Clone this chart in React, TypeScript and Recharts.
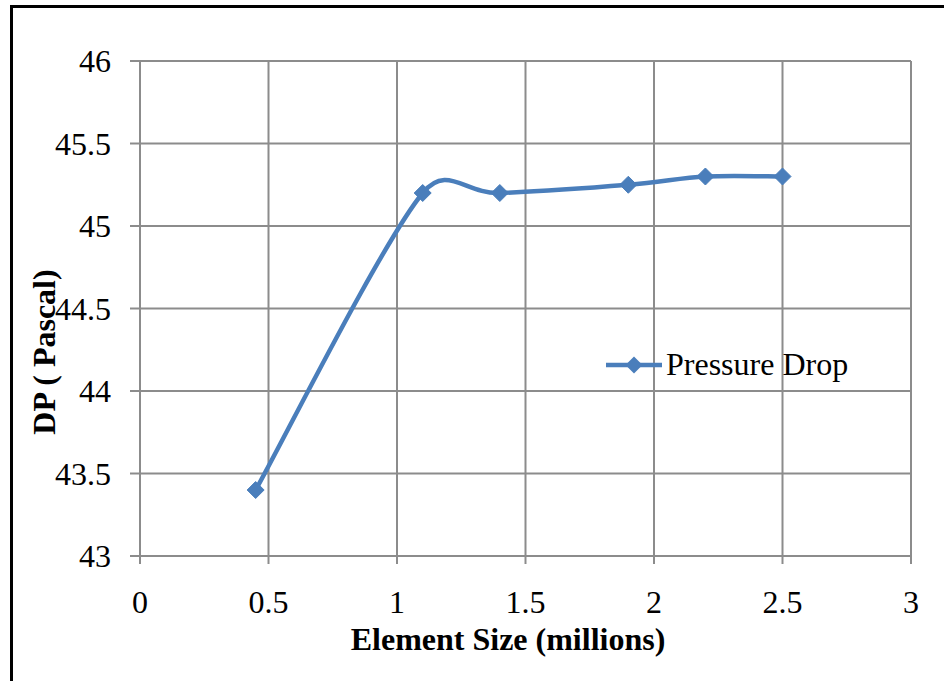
import { LineChart, Line, XAxis, YAxis, CartesianGrid, Legend } from "recharts";

const elementSizes = [0.45, 1.1, 1.4, 1.9, 2.2, 2.5];
const pressureDrop = [43.4, 45.2, 45.2, 45.25, 45.3, 45.3];
const xTicks = [0, 0.5, 1, 1.5, 2, 2.5, 3];
const yTicks = [43, 43.5, 44, 44.5, 45, 45.5, 46];

const data = elementSizes.map((x, i) => ({ x, dp: pressureDrop[i] }));

const BLUE = "#4A7EBB";
const GRID = "#8c8c8c";
const FONT = "'Liberation Serif', 'Times New Roman', serif";

// Excel-style smoothed line: bezier with 1/6 tangents, clamped to half the segment length
const excelSmooth = (context: any) => {
  let pts: number[][] = [];
  const ctrl = (a: number[], b: number[], seg: number) => {
    let dx = (b[0] - a[0]) / 6;
    let dy = (b[1] - a[1]) / 6;
    const len = Math.hypot(dx, dy);
    if (len > seg / 2 && len > 0) {
      dx *= seg / 2 / len;
      dy *= seg / 2 / len;
    }
    return [dx, dy];
  };
  return {
    areaStart() {},
    areaEnd() {},
    lineStart() {
      pts = [];
    },
    point(x: number, y: number) {
      pts.push([+x, +y]);
    },
    lineEnd() {
      if (!pts.length) return;
      context.moveTo(pts[0][0], pts[0][1]);
      for (let i = 0; i < pts.length - 1; i++) {
        const p0 = pts[i - 1] || pts[i];
        const p1 = pts[i];
        const p2 = pts[i + 1];
        const p3 = pts[i + 2] || p2;
        const seg = Math.hypot(p2[0] - p1[0], p2[1] - p1[1]);
        const c1 = ctrl(p0, p2, seg);
        const c2 = ctrl(p1, p3, seg);
        context.bezierCurveTo(p1[0] + c1[0], p1[1] + c1[1], p2[0] - c2[0], p2[1] - c2[1], p2[0], p2[1]);
      }
    },
  };
};

const Diamond = (props: any) => {
  const { cx, cy } = props;
  if (cx == null || cy == null) return null;
  const r = 8.5;
  return (
    <polygon
      key={`d-${cx}-${cy}`}
      points={`${cx},${cy - r} ${cx + r},${cy} ${cx},${cy + r} ${cx - r},${cy}`}
      fill={BLUE}
      stroke={BLUE}
    />
  );
};

const tickStyle = { fontFamily: FONT, fontSize: 32, fill: "#000" };

const XTick = (props: any) => {
  const { x, y, payload } = props;
  return (
    <text x={x} y={y} dy={23} textAnchor="middle" style={tickStyle}>
      {payload.value}
    </text>
  );
};

const YTick = (props: any) => {
  const { x, y, payload } = props;
  return (
    <text x={x} y={y} dy={11} textAnchor="end" style={tickStyle}>
      {payload.value}
    </text>
  );
};

const LegendBox = () => (
  <div style={{ display: "flex", alignItems: "center", fontFamily: FONT, fontSize: 32, color: "#000", whiteSpace: "nowrap" }}>
    <svg width={58} height={20}>
      <line x1={0} y1={10} x2={56} y2={10} stroke={BLUE} strokeWidth={4.5} />
      <polygon points="28,1.5 36.5,10 28,18.5 19.5,10" fill={BLUE} />
    </svg>
    <span style={{ marginLeft: 2 }}>Pressure Drop</span>
  </div>
);

export default function App() {
  return (
    <div
      style={{
        position: "absolute",
        left: 0,
        top: 0,
        width: 944,
        height: 681,
        background: "#fff",
        overflow: "hidden",
        fontFamily: FONT,
      }}
    >
      <div
        style={{
          position: "absolute",
          left: 10,
          top: 5,
          width: 960,
          height: 700,
          borderLeft: "3px solid #000",
          borderTop: "3px solid #000",
        }}
      />
      <LineChart
        width={944}
        height={681}
        data={data}
        margin={{ top: 61, right: 33, bottom: 35, left: 0 }}
        style={{ position: "absolute", left: 0, top: 0, fontFamily: FONT }}
      >
        <CartesianGrid stroke={GRID} strokeWidth={2} />
        <XAxis
          type="number"
          dataKey="x"
          domain={[0, 3]}
          ticks={xTicks}
          height={90}
          stroke={GRID}
          strokeWidth={2}
          tickSize={8}
          tickMargin={26}
          tick={<XTick />}
          label={() => (
            <text
              x={508}
              y={650}
              textAnchor="middle"
              fontFamily={FONT}
              fontSize={32}
              fontWeight="bold"
              fill="#000"
            >
              Element Size (millions)
            </text>
          )}
        />
        <YAxis
          type="number"
          domain={[43, 46]}
          ticks={yTicks}
          width={140}
          stroke={GRID}
          strokeWidth={2}
          tickSize={10}
          tickMargin={19}
          tick={<YTick />}
          label={() => (
            <text
              x={55}
              y={352}
              textAnchor="middle"
              transform="rotate(-90 55 352)"
              fontFamily={FONT}
              fontSize={32}
              fontWeight="bold"
              fill="#000"
            >
              DP ( Pascal)
            </text>
          )}
        />
        <Legend
          verticalAlign="middle"
          align="center"
          content={<LegendBox />}
          wrapperStyle={{ position: "absolute", left: 606, top: 346, width: "auto" }}
        />
        <Line
          dataKey="dp"
          name="Pressure Drop"
          type={excelSmooth as any}
          stroke={BLUE}
          strokeWidth={4.5}
          dot={<Diamond />}
          activeDot={false}
          isAnimationActive={false}
        />
      </LineChart>
    </div>
  );
}
